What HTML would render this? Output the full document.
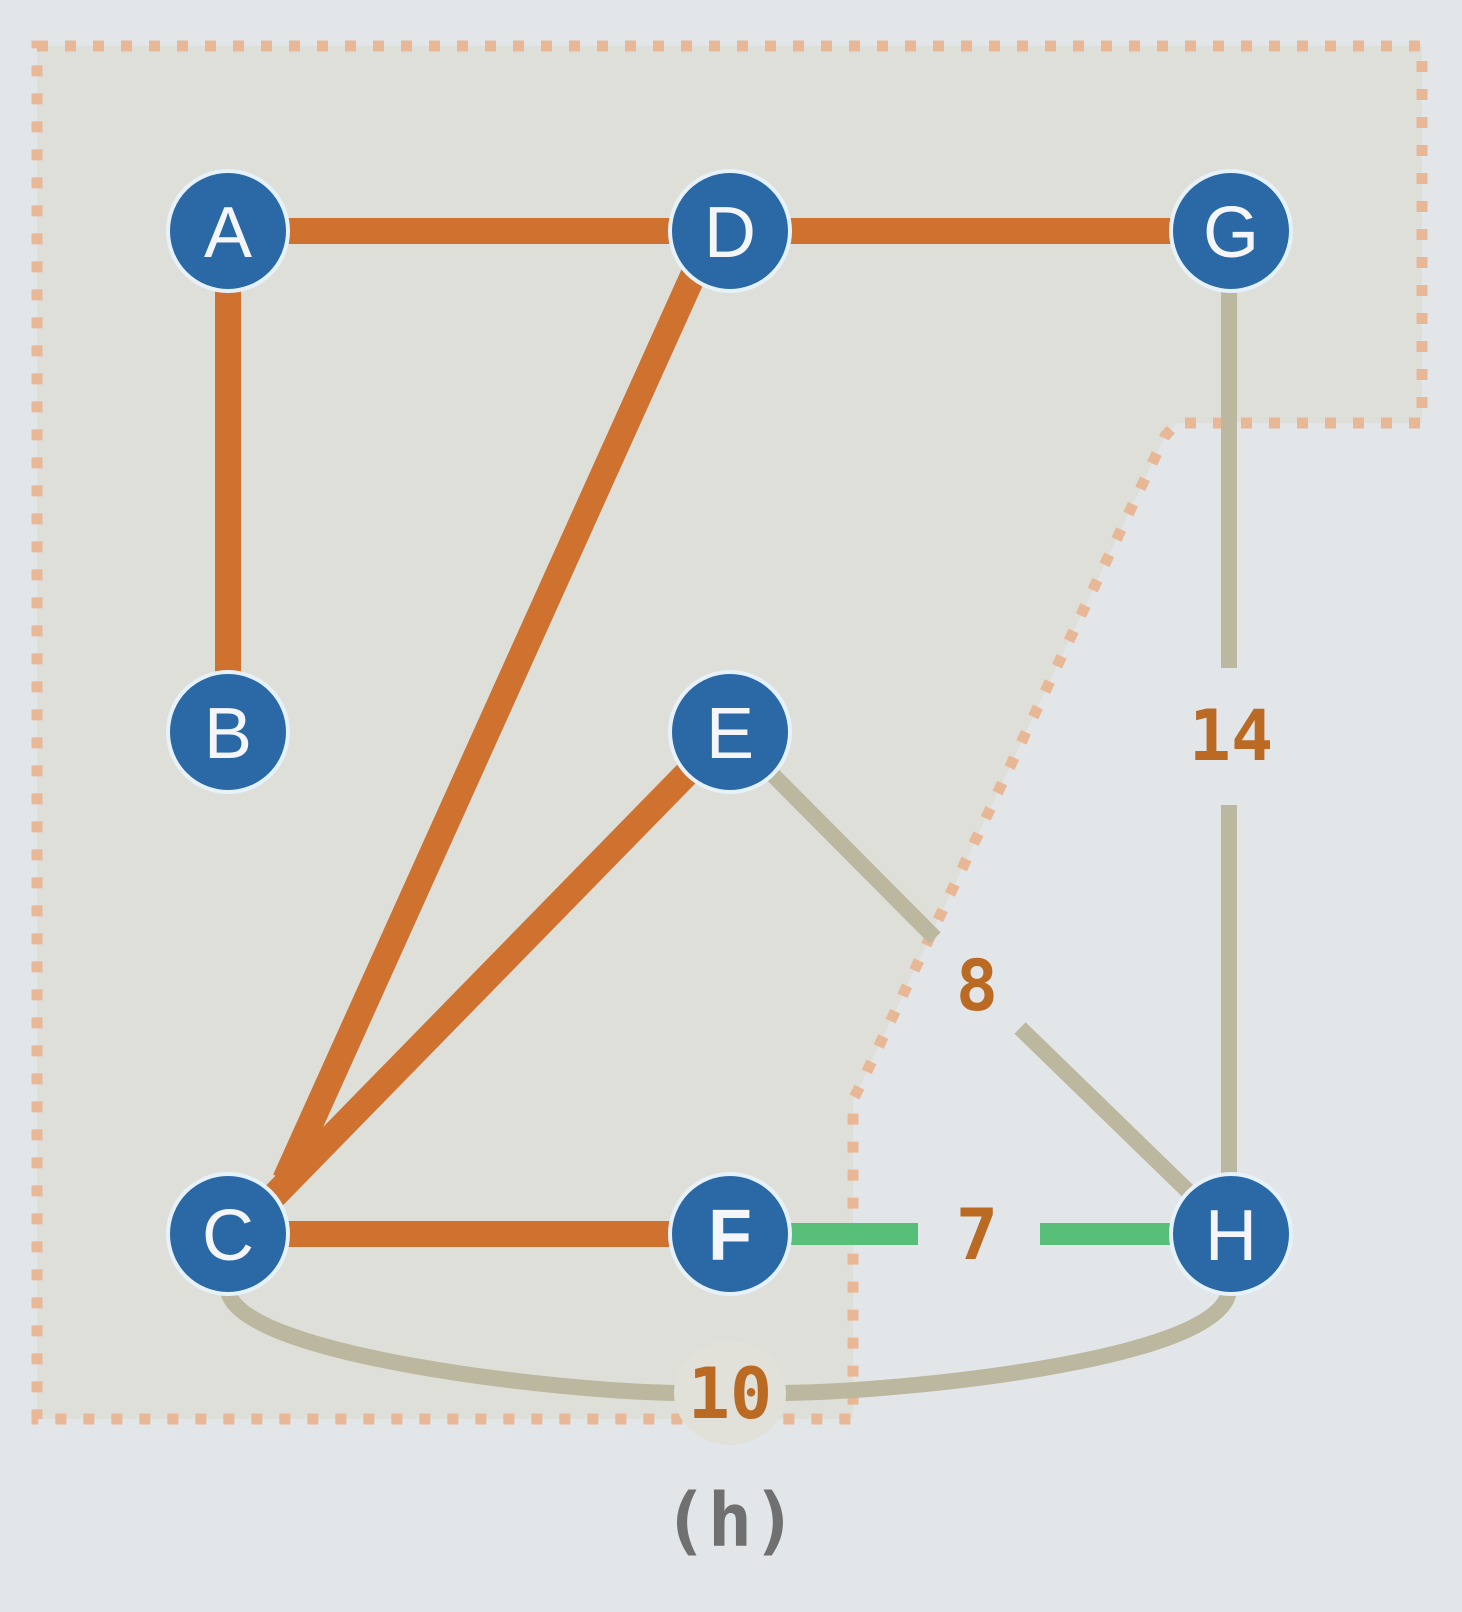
<!DOCTYPE html>
<html><head><meta charset="utf-8"><style>
html,body{margin:0;padding:0;background:#e3e6e9;}
svg{display:block}
</style></head><body>
<svg width="1462" height="1612" viewBox="0 0 1462 1612" xmlns="http://www.w3.org/2000/svg">
<rect width="1462" height="1612" fill="#e3e6e9"/>
<path d="M37,46 L1422,46 L1422,423 L1177,423 L1165,436 L862,1082 L853,1100 L853,1419 L37,1419 Z" fill="#dfdfd9" stroke="#e8b896" stroke-width="11" stroke-dasharray="11 17"/>
<!-- gray edges -->
<line x1="1229" y1="290" x2="1229" y2="668" stroke="#bcb79f" stroke-width="16"/>
<line x1="1229" y1="805" x2="1229" y2="1180" stroke="#bcb79f" stroke-width="16"/>
<line x1="770" y1="772" x2="935" y2="938" stroke="#bcb79f" stroke-width="16"/>
<line x1="1020" y1="1028" x2="1195" y2="1198" stroke="#bcb79f" stroke-width="16"/>
<path d="M228,1290 C235,1355 560,1392 680,1393 M782,1393 C900,1392 1225,1360 1229,1290" fill="none" stroke="#bcb79f" stroke-width="16"/>
<ellipse cx="730" cy="1393" rx="56" ry="52" fill="#e1e1da"/>
<!-- orange edges -->
<g stroke="#cf7230" stroke-width="26" stroke-linecap="butt">
<line x1="228" y1="231" x2="730" y2="231"/>
<line x1="730" y1="231" x2="1231" y2="231"/>
<line x1="228" y1="231" x2="228" y2="732"/>
<line x1="700" y1="260" x2="285" y2="1180"/>
<line x1="700" y1="760" x2="270" y2="1200"/>
<line x1="228" y1="1234" x2="730" y2="1234"/>
</g>
<!-- green -->
<line x1="785" y1="1234" x2="918" y2="1234" stroke="#57bf77" stroke-width="22"/>
<line x1="1040" y1="1234" x2="1180" y2="1234" stroke="#57bf77" stroke-width="22"/>
<!-- nodes -->
<g font-family="Liberation Sans, sans-serif" font-size="72" fill="#f4f6fa" text-anchor="middle">
<g fill="#2b68a6" stroke="#e6f2fb" stroke-width="4">
<circle cx="228" cy="231" r="60"/><circle cx="730" cy="231" r="60"/><circle cx="1231" cy="231" r="60"/>
<circle cx="228" cy="732" r="60"/><circle cx="730" cy="732" r="60"/>
<circle cx="228" cy="1234" r="60"/><circle cx="730" cy="1234" r="60"/><circle cx="1231" cy="1234" r="60"/>
</g>
<text x="228" y="257">A</text><text x="730" y="257">D</text><text x="1231" y="257">G</text>
<text x="228" y="758">B</text><text x="730" y="758">E</text>
<text x="228" y="1260">C</text><text x="730" y="1260" font-weight="bold">F</text><text x="1231" y="1260">H</text>
</g>
<g font-family="DejaVu Sans Mono, Liberation Mono, monospace" font-weight="bold" font-size="70" fill="#bb6a24" text-anchor="middle">
<text x="1231" y="760">14</text>
<text x="977" y="1010">8</text>
<text x="977" y="1259">7</text>
<text x="730" y="1418">10</text>
</g>
<text x="730" y="1546" font-family="DejaVu Sans Mono, Liberation Mono, monospace" font-weight="bold" font-size="74" fill="#707070" text-anchor="middle">(h)</text>
</svg>
</body></html>
